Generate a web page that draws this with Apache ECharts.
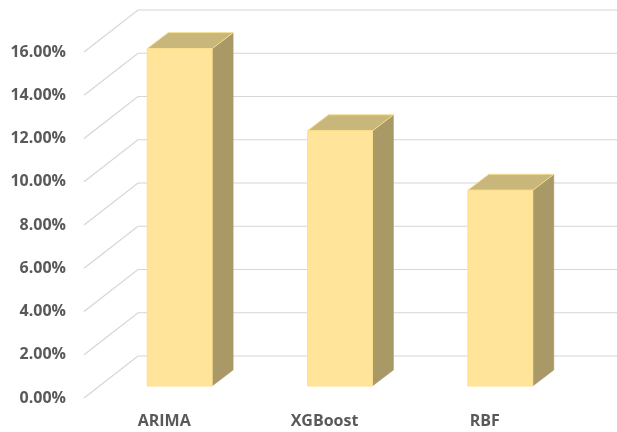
<!DOCTYPE html>
<html>
<head>
<meta charset="utf-8">
<script src="https://cdn.jsdelivr.net/npm/echarts@6/dist/echarts.min.js"></script>
<style>html,body{margin:0;padding:0;background:#fff}#c{width:617px;height:432px}</style>
</head>
<body>
<div id="c"></div>
<script>
var categories = ['ARIMA', 'XGBoost', 'RBF'];
var values = [15.6, 11.8, 9.05];
var yTicks = [0, 2, 4, 6, 8, 10, 12, 14, 16];

var FLOOR_DX = 54, FLOOR_DY = -42;
var BAR_OFF_DX = 15.5, BAR_OFF_DY = -12;
var BAR_DX = 21, BAR_DY = -16;

var chart = echarts.init(document.getElementById('c'), null, {renderer: 'canvas'});
var font = '"Open Sans", "Liberation Sans", sans-serif';

chart.setOption({
  animation: false,
  backgroundColor: '#ffffff',
  grid: {left: 84, right: 52, top: 52, bottom: 34},
  xAxis: {
    type: 'category',
    data: categories,
    axisLine: {show: false},
    axisTick: {show: false},
    axisLabel: {color: '#595959', fontWeight: 'bold', fontSize: 16, fontFamily: font, margin: 15}
  },
  yAxis: {
    type: 'value',
    min: 0, max: 16, interval: 2,
    axisLine: {show: false},
    axisTick: {show: false},
    splitLine: {show: false},
    axisLabel: {
      color: '#595959', fontWeight: 'bold', fontSize: 16, fontFamily: font, margin: 18,
      padding: [4, 0, 0, 0],
      formatter: function (v) { return v.toFixed(2) + '%'; }
    }
  },
  series: [
    {
      type: 'custom',
      silent: true,
      data: yTicks.map(function (t) { return [0, t]; }),
      renderItem: function (params, api) {
        var cs = params.coordSys;
        var p = api.coord([0, api.value(1)]);
        var x0 = cs.x, y0 = p[1];
        return {
          type: 'polyline',
          shape: {points: [[x0, y0], [x0 + FLOOR_DX, y0 + FLOOR_DY], [617, y0 + FLOOR_DY]]},
          style: {stroke: '#d6d6d6', lineWidth: 1.2, fill: null}
        };
      }
    },
    {
      type: 'custom',
      silent: true,
      data: values.map(function (v, i) { return [i, v]; }),
      renderItem: function (params, api) {
        var idx = api.value(0);
        var base = api.coord([idx, 0]);
        var top = api.coord([idx, api.value(1)]);
        var band = api.size([1, 0])[0];
        var w = band * 0.405;
        var xl = base[0] - w / 2 + BAR_OFF_DX;
        var xr = xl + w;
        var yb = base[1] + BAR_OFF_DY;
        var yt = top[1] + BAR_OFF_DY;
        return {
          type: 'group',
          children: [
            {
              type: 'polygon',
              shape: {points: [[xr, yt], [xr + BAR_DX, yt + BAR_DY], [xr + BAR_DX, yb + BAR_DY], [xr, yb]]},
              style: {fill: '#a89966', stroke: '#a89966', lineWidth: 0.5}
            },
            {
              type: 'polygon',
              shape: {points: [[xl, yt], [xl + BAR_DX, yt + BAR_DY], [xr + BAR_DX, yt + BAR_DY], [xr, yt]]},
              style: {fill: '#c8b67a', stroke: '#f5dc8c', lineWidth: 1}
            },
            {
              type: 'rect',
              shape: {x: xl, y: yt, width: w, height: yb - yt},
              style: {fill: '#ffe499', stroke: '#fde08e', lineWidth: 1}
            }
          ]
        };
      }
    }
  ]
});
</script>
</body>
</html>
